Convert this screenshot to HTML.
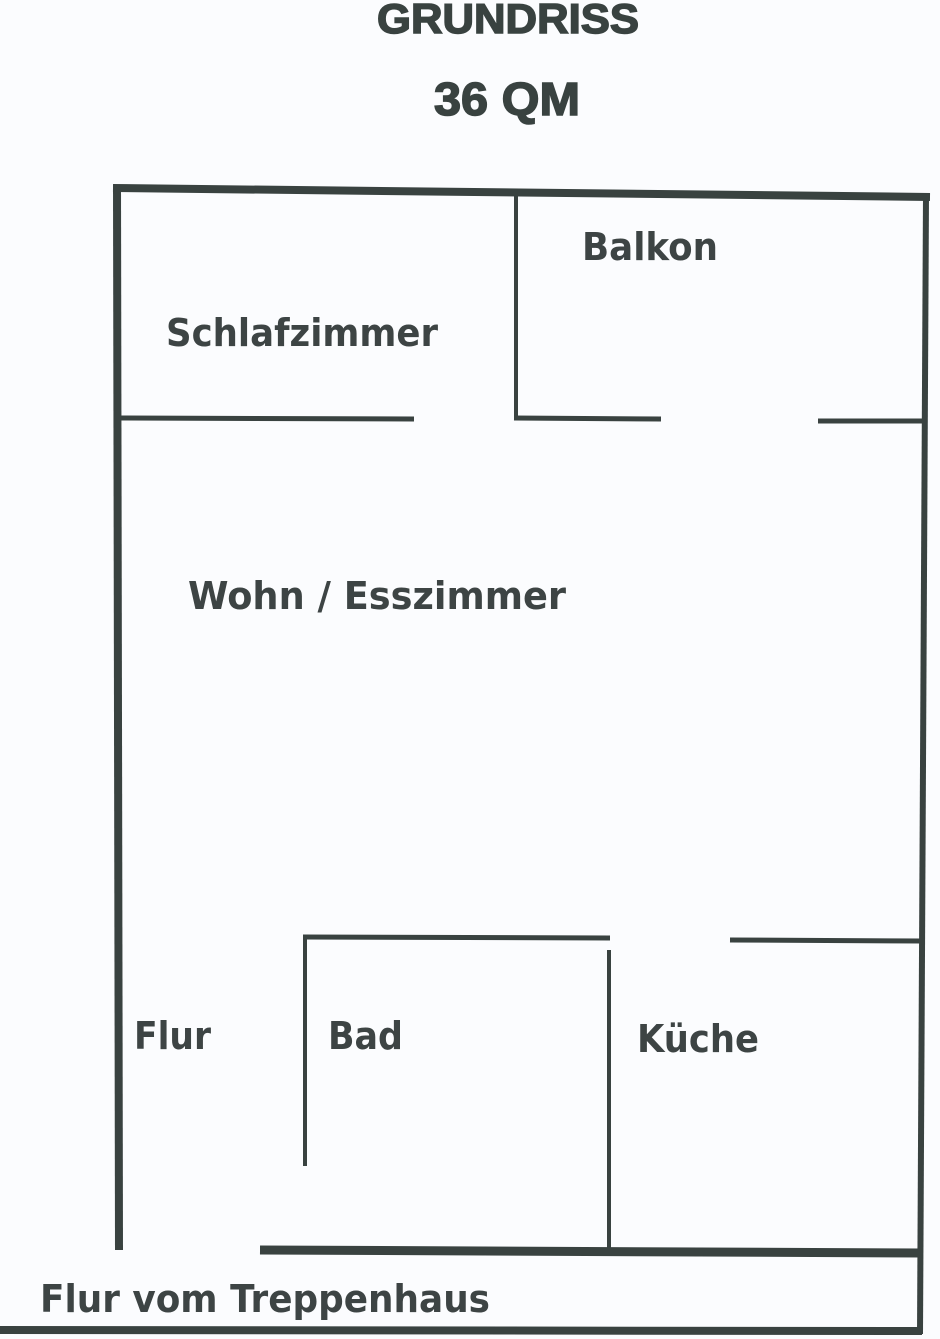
<!DOCTYPE html>
<html><head><meta charset="utf-8"><style>
html,body{margin:0;padding:0;background:#fbfcfe;}
svg{display:block}
</style></head><body>
<svg width="940" height="1339" viewBox="0 0 940 1339" xmlns="http://www.w3.org/2000/svg">
<rect width="940" height="1339" fill="#fbfcfe"/>
<g stroke="#394240" fill="none" stroke-linecap="butt">
<line x1="113" y1="188" x2="930" y2="197" stroke-width="8"/>
<line x1="117" y1="185" x2="119" y2="1250" stroke-width="8"/>
<line x1="926" y1="195" x2="920" y2="1334" stroke-width="6"/>
<line x1="119" y1="418" x2="414" y2="419" stroke-width="5"/>
<line x1="516" y1="195" x2="516" y2="420" stroke-width="4"/>
<line x1="514" y1="418" x2="661" y2="419" stroke-width="5"/>
<line x1="818" y1="421" x2="926" y2="421" stroke-width="5"/>
<line x1="303" y1="937" x2="610" y2="938" stroke-width="5"/>
<line x1="305" y1="935" x2="305" y2="1166" stroke-width="4"/>
<line x1="609" y1="950" x2="609" y2="1250" stroke-width="4"/>
<line x1="730" y1="940" x2="922" y2="941" stroke-width="5"/>
<line x1="260" y1="1250" x2="922" y2="1253" stroke-width="9"/>
<line x1="0" y1="1330" x2="922" y2="1331" stroke-width="8"/>
</g>
<g fill="#394240" stroke="#394240" stroke-width="1.5" font-family="'Liberation Sans', 'DejaVu Sans', sans-serif" font-weight="bold">
<text x="377" y="33" font-size="42" textLength="262" lengthAdjust="spacingAndGlyphs">GRUNDRISS</text>
<text x="434" y="115" font-size="46" textLength="146" lengthAdjust="spacingAndGlyphs">36 QM</text>
</g>
<g fill="#3d4444" font-family="'DejaVu Sans', 'Liberation Sans', sans-serif" font-weight="bold" font-size="38">
<text x="166" y="346" textLength="272" lengthAdjust="spacingAndGlyphs">Schlafzimmer</text>
<text x="582" y="260" textLength="136" lengthAdjust="spacingAndGlyphs">Balkon</text>
<text x="188" y="609" textLength="378" lengthAdjust="spacingAndGlyphs">Wohn / Esszimmer</text>
<text x="134" y="1049" textLength="77" lengthAdjust="spacingAndGlyphs">Flur</text>
<text x="328" y="1049" textLength="75" lengthAdjust="spacingAndGlyphs">Bad</text>
<text x="637" y="1052" textLength="122" lengthAdjust="spacingAndGlyphs">Küche</text>
<text x="40" y="1312" textLength="450" lengthAdjust="spacingAndGlyphs">Flur vom Treppenhaus</text>
</g>
</svg>
</body></html>
